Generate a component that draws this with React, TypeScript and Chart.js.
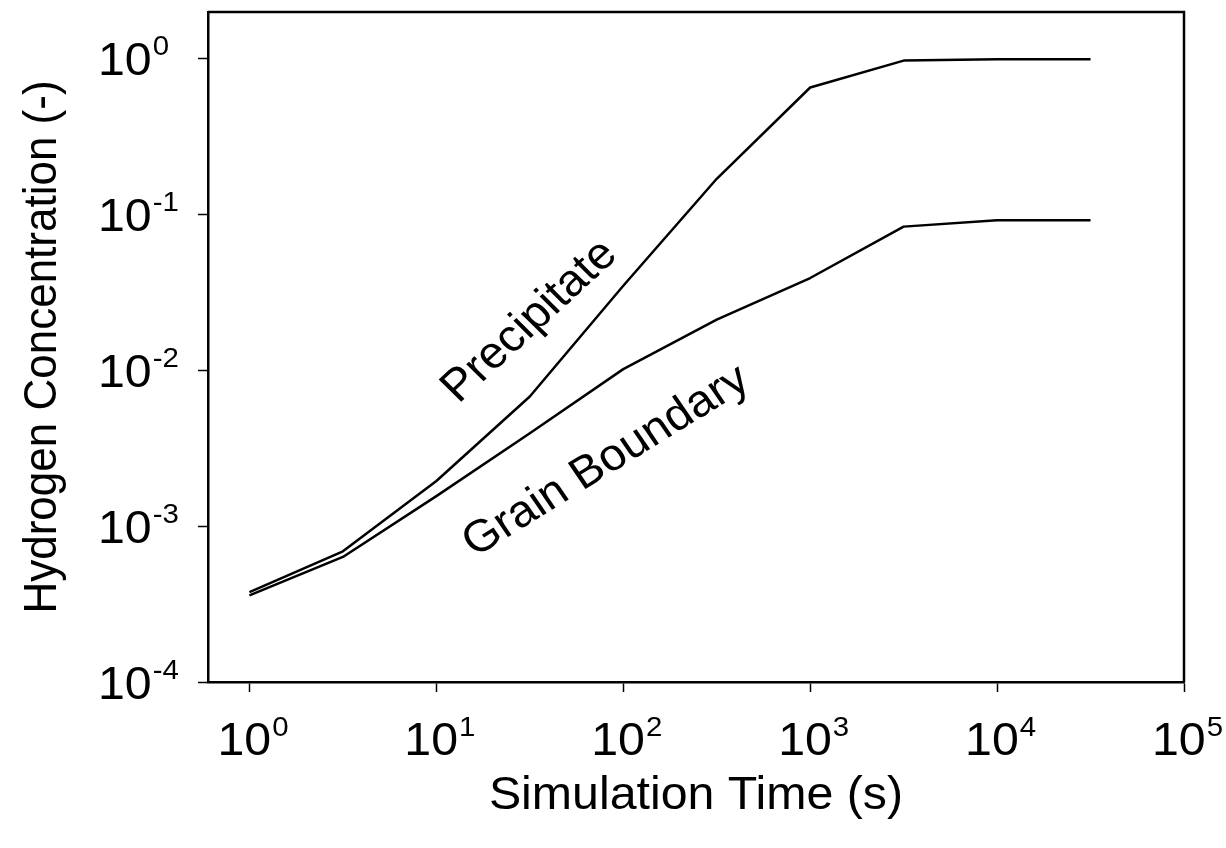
import { useEffect, useRef } from "react";
import { Chart, registerables } from "chart.js";

Chart.register(...registerables);

// ---- data ----
const TIME_S = [1, 3.162, 10, 31.62, 100, 316.2, 1000, 3162, 10000, 31623];
const PRECIPITATE = [3.77e-4, 6.9e-4, 1.95e-3, 6.8e-3, 3.5e-2, 0.17, 0.655, 0.975, 0.993, 0.993];
const GRAIN_BOUNDARY = [3.6e-4, 6.35e-4, 1.56e-3, 3.95e-3, 1.02e-2, 0.0212, 0.0392, 0.0838, 0.0922, 0.0922];

const X_TICKS = [1, 10, 100, 1000, 10000, 100000];
const X_TICK_EXP = ["0", "1", "2", "3", "4", "5"];
const Y_TICKS = [1e-4, 1e-3, 1e-2, 1e-1, 1];
const Y_TICK_EXP = ["-4", "-3", "-2", "-1", "0"];

const X_TITLE = "Simulation Time (s)";
const Y_TITLE = "Hydrogen Concentration (-)";

const SERIES_LABELS = ["Precipitate", "Grain Boundary"];
// anchor (data coords) and rotation for in-plot labels
const LABEL_X = [31.6, 80.9];
const LABEL_Y = [0.0206, 0.0026];
const LABEL_ANGLE = [-44, -33];

const FONT = "'Liberation Sans', Arial, Helvetica, sans-serif";
const BASE_SIZE = 46;
const SUP_SIZE = 28;
const SX = 1.05; // slight horizontal stretch of the scanned original

function stretchedText(ctx: CanvasRenderingContext2D, text: string, x: number, y: number, align: CanvasTextAlign) {
  ctx.save();
  ctx.translate(x, y);
  ctx.scale(SX, 1);
  ctx.textAlign = align;
  ctx.fillText(text, 0, 0);
  ctx.restore();
}

const textPlugin = {
  id: "customText",
  afterDraw(chart: any) {
    const { ctx, chartArea: a, scales } = chart;
    const xs = scales.x;
    const ys = scales.y;
    ctx.save();
    ctx.fillStyle = "#000";
    ctx.strokeStyle = "#000";

    // top & right frame
    ctx.lineWidth = 2.5;
    ctx.beginPath();
    ctx.moveTo(a.left, a.top);
    ctx.lineTo(a.right, a.top);
    ctx.lineTo(a.right, a.bottom);
    ctx.stroke();

    ctx.textBaseline = "alphabetic";

    // x tick labels
    X_TICKS.forEach((v, i) => {
      const px = xs.getPixelForValue(v);
      ctx.font = `${BASE_SIZE}px ${FONT}`;
      const wb = ctx.measureText("10").width * SX;
      ctx.font = `${SUP_SIZE}px ${FONT}`;
      const we = ctx.measureText(X_TICK_EXP[i]).width * SX;
      const start = px - (wb + we) / 2 + 3;
      ctx.font = `${BASE_SIZE}px ${FONT}`;
      stretchedText(ctx, "10", start, a.bottom + 73, "left");
      ctx.font = `${SUP_SIZE}px ${FONT}`;
      stretchedText(ctx, X_TICK_EXP[i], start + wb + 1, a.bottom + 54, "left");
    });

    // y tick labels
    Y_TICKS.forEach((v, i) => {
      const py = ys.getPixelForValue(v);
      const start = a.left - 110;
      ctx.font = `${BASE_SIZE}px ${FONT}`;
      const wb = ctx.measureText("10").width * SX;
      stretchedText(ctx, "10", start, py + 16.5, "left");
      ctx.font = `${SUP_SIZE}px ${FONT}`;
      stretchedText(ctx, Y_TICK_EXP[i], start + wb + 1, py - 3.5, "left");
    });

    // axis titles
    ctx.font = `${BASE_SIZE}px ${FONT}`;
    stretchedText(ctx, X_TITLE, (a.left + a.right) / 2, a.bottom + 127, "center");

    ctx.save();
    ctx.translate(56, (a.top + a.bottom) / 2);
    ctx.scale(SX, 1);
    ctx.rotate(-Math.PI / 2);
    ctx.font = `44px ${FONT}`;
    ctx.textAlign = "center";
    ctx.fillText(Y_TITLE, 0, 0);
    ctx.restore();

    // in-plot labels
    ctx.textBaseline = "middle";
    ctx.textAlign = "center";
    SERIES_LABELS.forEach((t, i) => {
      const px = xs.getPixelForValue(LABEL_X[i]);
      const py = ys.getPixelForValue(LABEL_Y[i]);
      ctx.save();
      ctx.translate(px, py);
      ctx.scale(SX, 1);
      ctx.rotate((LABEL_ANGLE[i] * Math.PI) / 180);
      ctx.font = `45px ${FONT}`;
      ctx.fillText(t, 0, 0);
      ctx.restore();
    });

    ctx.restore();
  },
};

export default function App() {
  const ref = useRef<HTMLCanvasElement | null>(null);

  useEffect(() => {
    document.body.style.margin = "0";
    const canvas = ref.current;
    if (!canvas) return;
    const makeData = (ys: number[]) => TIME_S.map((x, i) => ({ x, y: ys[i] }));
    const lineStyle = {
      borderColor: "#000",
      borderWidth: 2.5,
      pointRadius: 0,
      tension: 0,
      fill: false,
      borderJoinStyle: "round" as const,
    };
    const chart = new Chart(canvas, {
      type: "line",
      data: {
        datasets: [
          { label: SERIES_LABELS[0], data: makeData(PRECIPITATE), ...lineStyle },
          { label: SERIES_LABELS[1], data: makeData(GRAIN_BOUNDARY), ...lineStyle },
        ],
      },
      options: {
        animation: false,
        responsive: false,
        devicePixelRatio: 1,
        layout: { padding: { left: 198, right: 42, top: 12, bottom: 156 } },
        plugins: { legend: { display: false }, tooltip: { enabled: false } },
        scales: {
          x: {
            type: "logarithmic",
            min: 0.6,
            max: 100000,
            afterBuildTicks: (scale: any) => {
              scale.ticks = X_TICKS.map((value) => ({ value, major: true }));
            },
            ticks: { display: false },
            grid: {
              display: true,
              drawOnChartArea: false,
              drawTicks: true,
              tickLength: 10,
              tickWidth: 1.5,
              tickColor: "#000",
            },
            border: { display: true, color: "#000", width: 2.5 },
          },
          y: {
            type: "logarithmic",
            min: 1e-4,
            max: 2,
            afterBuildTicks: (scale: any) => {
              scale.ticks = Y_TICKS.map((value) => ({ value, major: true }));
            },
            ticks: { display: false },
            grid: {
              display: true,
              drawOnChartArea: false,
              drawTicks: true,
              tickLength: 10,
              tickWidth: 1.5,
              tickColor: "#000",
            },
            border: { display: true, color: "#000", width: 2.5 },
          },
        },
      },
      plugins: [textPlugin],
    } as any);
    return () => chart.destroy();
  }, []);

  return (
    <div style={{ width: 1226, height: 848, background: "#fff" }}>
      <canvas ref={ref} width={1226} height={848} style={{ display: "block" }} />
    </div>
  );
}
